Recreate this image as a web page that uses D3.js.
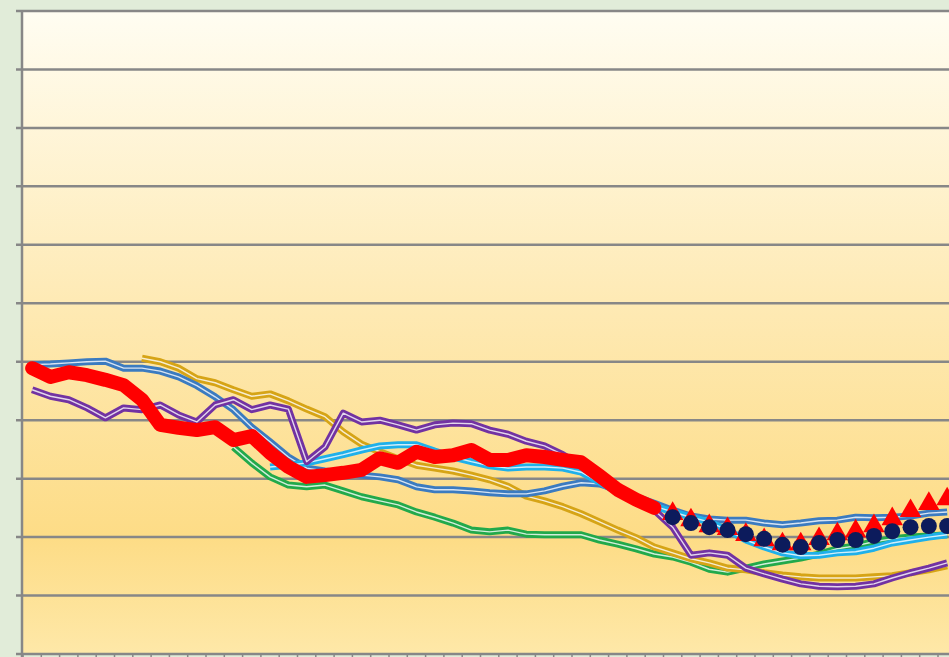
<!DOCTYPE html>
<html>
<head>
<meta charset="utf-8">
<script src="https://cdn.jsdelivr.net/npm/d3@7"></script>
<style>
  html, body { margin: 0; padding: 0; background: #e1ecd9; overflow: hidden; }
</style>
</head>
<body>
<svg id="chart"></svg>
<script>
// week numbers along the x axis
const weeks = d3.range(1, 53);

// series values, one per week (null = no data that week)
const steelBlue = [49.5, 49.6, 49.8, 50.0, 50.1, 48.9, 48.9, 48.4, 47.4, 45.9, 44.0, 41.8, 38.8, 36.3, 33.7, 31.8, 31.3, 31.0, 30.6, 30.3, 29.8, 28.6, 28.1, 28.1, 27.9, 27.6, 27.4, 27.4, 27.9, 28.7, 29.3, 29.1, 28.1, 26.9, 25.8, 24.6, 23.6, 23.1, 22.9, 22.9, 22.4, 22.1, 22.4, 22.8, 22.9, 23.4, 23.3, 23.4, 23.6, 24.1, 24.3];
const lightBlue = [null, null, null, null, null, null, null, null, null, null, null, null, null, 32.0, 32.3, 32.7, 33.4, 34.1, 34.9, 35.6, 35.8, 35.8, 34.7, 33.7, 32.9, 32.2, 31.8, 32.0, 32.0, 31.8, 31.1, 29.4, 27.7, 26.4, 25.3, 24.3, 23.4, 22.6, 21.2, 19.5, 18.3, 17.3, 16.8, 16.9, 17.3, 17.5, 18.1, 19.0, 19.5, 20.0, 20.4];
const gold = [null, null, null, null, null, null, 50.6, 50.0, 48.9, 47.1, 46.4, 45.2, 44.1, 44.5, 43.3, 41.9, 40.6, 38.0, 35.9, 34.6, 33.4, 32.3, 31.8, 31.3, 30.6, 29.8, 28.7, 27.0, 26.2, 25.2, 24.0, 22.6, 21.2, 19.9, 18.3, 17.3, 16.3, 15.6, 14.7, 14.4, 13.9, 13.5, 13.2, 13.0, 13.0, 13.0, 13.2, 13.4, 13.9, 14.4, 15.1];
const purple = [45.2, 44.1, 43.5, 42.1, 40.4, 42.1, 41.8, 42.6, 40.9, 39.7, 42.6, 43.5, 41.8, 42.6, 41.9, 32.9, 35.4, 41.2, 39.7, 40.0, 39.2, 38.3, 39.2, 39.5, 39.4, 38.3, 37.6, 36.4, 35.6, 34.1, 32.2, 29.8, 27.7, 26.4, 24.6, 21.7, 16.9, 17.3, 16.9, 14.7, 13.7, 12.8, 12.0, 11.6, 11.5, 11.6, 12.0, 13.0, 13.9, 14.7, 15.6];
const green = [null, null, null, null, null, null, null, null, null, null, null, 35.4, 32.7, 30.3, 28.9, 28.6, 28.9, 27.9, 26.9, 26.2, 25.5, 24.3, 23.4, 22.4, 21.2, 20.9, 21.2, 20.5, 20.4, 20.4, 20.4, 19.5, 18.8, 18.0, 17.1, 16.6, 15.7, 14.5, 14.0, 14.7, 15.4, 15.9, 16.4, 17.1, 18.0, 18.5, 19.2, 19.7, 20.0, 20.2, 20.4];
const current = [48.9, 47.4, 48.2, 47.7, 46.9, 46.0, 43.5, 39.2, 38.7, 38.3, 38.8, 36.6, 37.3, 34.4, 32.0, 30.3, 30.6, 31.0, 31.5, 33.5, 32.7, 34.6, 33.7, 34.0, 34.9, 33.2, 33.2, 34.0, 33.7, 33.2, 32.8, 30.5, 28.1, 26.4, 25.0];
// forecast markers, starting at week 36
const forecastStart = 35;
const forecastHigh = [24.0, 22.9, 21.9, 21.4, 20.4, 19.5, 18.8, 18.8, 19.7, 20.5, 21.0, 21.9, 23.1, 24.5, 25.7, 26.5];
const forecastMid = [23.4, 22.4, 21.7, 21.2, 20.5, 19.7, 18.7, 18.3, 19.0, 19.5, 19.5, 20.2, 21.0, 21.7, 21.9, 21.9];

const yTicks = d3.range(0, 111, 10);

const width = 949;
const height = 657;
const margin = { top: 11, left: 23, bottom: 3 };
const step = 18.3;

const svg = d3.select("#chart").attr("width", width).attr("height", height);

const x = d3
  .scaleBand()
  .domain(weeks)
  .range([margin.left, margin.left + step * weeks.length])
  .padding(0);

const y = d3
  .scaleLinear()
  .domain([0, 110])
  .range([height - margin.bottom, margin.top]);

const cx = (i) => x(weeks[i]) + x.bandwidth() / 2;

// plot area background
const defs = svg.append("defs");
const grad = defs
  .append("linearGradient")
  .attr("id", "plotBg")
  .attr("x1", 0)
  .attr("y1", 0)
  .attr("x2", 0)
  .attr("y2", 1);
grad.append("stop").attr("offset", "0%").attr("stop-color", "#fffdf2");
grad.append("stop").attr("offset", "45%").attr("stop-color", "#feeab5");
grad.append("stop").attr("offset", "82%").attr("stop-color", "#fddc86");
grad.append("stop").attr("offset", "100%").attr("stop-color", "#fee8a8");

svg
  .append("rect")
  .attr("x", margin.left)
  .attr("y", y(110))
  .attr("width", width)
  .attr("height", y(0) - y(110))
  .attr("fill", "url(#plotBg)");

// gridlines
svg
  .append("g")
  .selectAll("line")
  .data(yTicks)
  .enter()
  .append("line")
  .attr("x1", margin.left - 7)
  .attr("x2", width)
  .attr("y1", (d) => y(d))
  .attr("y2", (d) => y(d))
  .attr("stroke", "#878787")
  .attr("stroke-width", 2.5);

// y axis line
svg
  .append("line")
  .attr("x1", margin.left - 1)
  .attr("x2", margin.left - 1)
  .attr("y1", y(110))
  .attr("y2", height)
  .attr("stroke", "#878787")
  .attr("stroke-width", 2.5);

// x axis ticks between categories
svg
  .append("g")
  .selectAll("line")
  .data(weeks)
  .enter()
  .append("line")
  .attr("x1", (d) => x(d))
  .attr("x2", (d) => x(d))
  .attr("y1", y(0))
  .attr("y2", y(0) + 6)
  .attr("stroke", "#878787")
  .attr("stroke-width", 1.5);

const line = d3
  .line()
  .defined((d) => d != null)
  .x((d, i) => cx(i))
  .y((d) => y(d));

const doubleSeries = [
  { values: green, color: "#22a94b" },
  { values: gold, color: "#d6a416" },
  { values: steelBlue, color: "#3b7bc0" },
  { values: lightBlue, color: "#1fb0ea" },
  { values: purple, color: "#7232a2" },
];

doubleSeries.forEach((s) => {
  svg
    .append("path")
    .attr("d", line(s.values))
    .attr("fill", "none")
    .attr("stroke", s.color)
    .attr("stroke-width", 7)
    .attr("stroke-linejoin", "round");
  svg
    .append("path")
    .attr("d", line(s.values))
    .attr("fill", "none")
    .attr("stroke", "#ffffff")
    .attr("stroke-opacity", 0.8)
    .attr("stroke-width", 1.4)
    .attr("stroke-linejoin", "round");
});

// current year, thick red
svg
  .append("path")
  .attr("d", line(current))
  .attr("fill", "none")
  .attr("stroke", "#ff0000")
  .attr("stroke-width", 14)
  .attr("stroke-linejoin", "round")
  .attr("stroke-linecap", "round");

// forecast markers
const tri = d3.symbol().type(d3.symbolTriangle).size(200);

svg
  .append("g")
  .selectAll("path")
  .data(forecastHigh)
  .enter()
  .append("path")
  .attr("d", tri)
  .attr("transform", (d, i) => `translate(${cx(forecastStart + i)},${y(d)})`)
  .attr("fill", "#ff0000");

svg
  .append("g")
  .selectAll("circle")
  .data(forecastMid)
  .enter()
  .append("circle")
  .attr("cx", (d, i) => cx(forecastStart + i))
  .attr("cy", (d) => y(d))
  .attr("r", 8)
  .attr("fill", "#0c1b5c");
</script>
</body>
</html>
